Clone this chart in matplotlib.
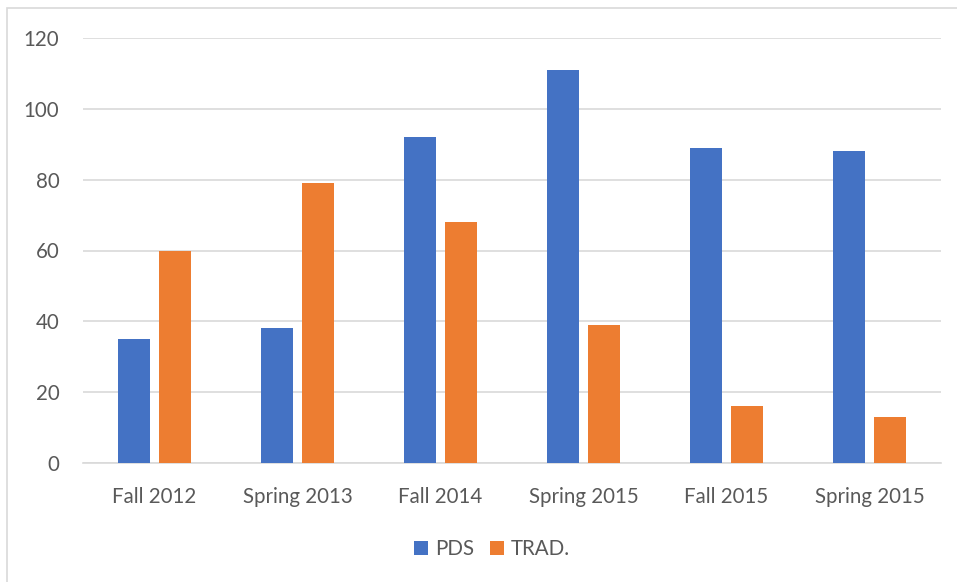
import matplotlib
matplotlib.use("Agg")
import matplotlib.pyplot as plt
from matplotlib.patches import Rectangle
import numpy as np

categories = ["Fall 2012", "Spring 2013", "Fall 2014", "Spring 2015", "Fall 2015", "Spring 2015"]
pds = [35, 38, 92, 111, 89, 88]
trad = [60, 79, 68, 39, 16, 13]
yticks = [0, 20, 40, 60, 80, 100, 120]

plt.rcParams['font.family'] = ['Lato', 'DejaVu Sans']
txt = '#595959'
fs = 14.8

fig = plt.figure(figsize=(9.57, 5.82), dpi=100)
fig.patches.append(Rectangle((7/957, -0.1), 1.2, 1 - 8/582 + 0.1, transform=fig.transFigure,
                             fill=False, edgecolor='#d9d9d9', linewidth=1.2))
ax = fig.add_axes([83/957, 1 - 463/582, (941 - 83)/957, (463 - 38)/582])

x = np.arange(len(categories))
w = 32/143
off = (32 + 9)/2/143
ax.bar(x - off, pds, w, color='#4472c4', label='PDS', zorder=3)
ax.bar(x + off, trad, w, color='#ed7d31', label='TRAD.', zorder=3)

ax.set_xlim(-0.5, len(categories) - 0.5)
ax.set_ylim(0, 120)
ax.set_yticks(yticks)
ax.yaxis.grid(True, color='#d9d9d9', linewidth=1.2, zorder=0)
ax.set_axisbelow(True)
for s in ['top', 'right', 'left']:
    ax.spines[s].set_visible(False)
ax.spines['bottom'].set_color('#d9d9d9')
ax.spines['bottom'].set_linewidth(1.2)
ax.set_xticks(x)
ax.set_xticklabels(categories)
ax.tick_params(axis='both', length=0, labelcolor=txt, labelsize=fs)
ax.tick_params(axis='y', pad=17)
ax.tick_params(axis='x', pad=17)

leg = fig.legend(loc='center', bbox_to_anchor=(492/957, 1 - 549/582), ncol=2, frameon=False,
                 fontsize=fs, handlelength=0.65, handleheight=0.65, handletextpad=0.35,
                 columnspacing=0.8, labelcolor=txt)

fig.savefig('out.png', dpi=100)
